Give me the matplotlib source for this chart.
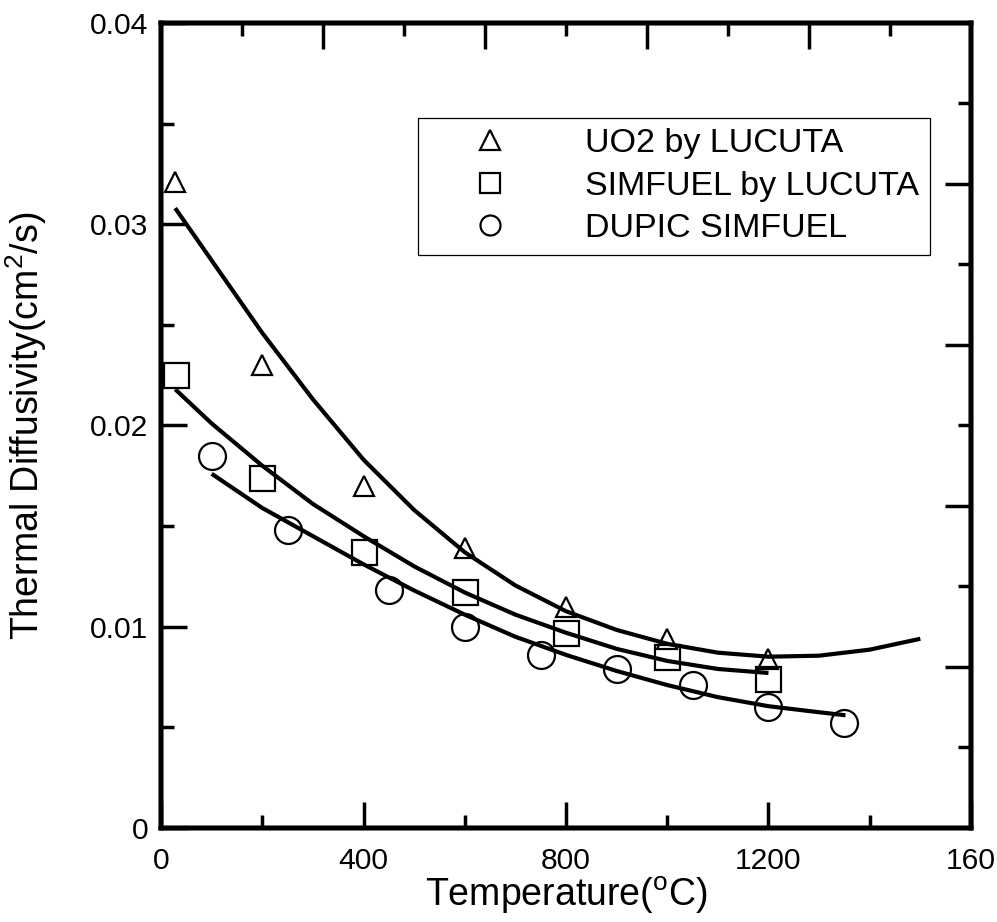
import matplotlib
matplotlib.use("Agg")
import matplotlib.pyplot as plt
from matplotlib.lines import Line2D

plt.rcParams["font.family"] = ["Liberation Sans", "DejaVu Sans"]
plt.rcParams["mathtext.fontset"] = "custom"
plt.rcParams["mathtext.rm"] = "Liberation Sans"
plt.rcParams["mathtext.it"] = "Liberation Sans:italic"

# measured points
uo2_t = [28, 200, 400, 600, 800, 1000, 1200]
uo2_d = [0.0321, 0.0230, 0.0170, 0.0139, 0.0110, 0.0094, 0.0084]
sim_t = [30, 200, 400, 600, 800, 1000, 1200]
sim_d = [0.0225, 0.0174, 0.0137, 0.0117, 0.0097, 0.0085, 0.0074]
dupic_t = [100, 250, 450, 600, 750, 900, 1050, 1200, 1350]
dupic_d = [0.0185, 0.0148, 0.0118, 0.0100, 0.0086, 0.0079, 0.0071, 0.0060, 0.0052]

# fitted curves
uo2_fit_t = [28, 100, 200, 300, 400, 500, 600, 700, 800, 900, 1000, 1100, 1200, 1300, 1400, 1500]
uo2_fit_d = [0.0308, 0.0282, 0.0246, 0.0213, 0.0183, 0.0158, 0.0137, 0.01205, 0.01077,
             0.00984, 0.00915, 0.00871, 0.00851, 0.00856, 0.00886, 0.00940]
sim_fit_t = [28, 100, 200, 300, 400, 500, 600, 700, 800, 900, 1000, 1100, 1200]
sim_fit_d = [0.0218, 0.0201, 0.0180, 0.0161, 0.0145, 0.0130, 0.0117, 0.0106, 0.0097,
             0.0089, 0.0083, 0.0079, 0.0077]
dupic_fit_t = [100, 200, 300, 400, 500, 600, 700, 800, 900, 1000, 1100, 1200, 1300, 1352]
dupic_fit_d = [0.0176, 0.0159, 0.0145, 0.0131, 0.0118, 0.0106, 0.0095, 0.0086, 0.0078,
               0.0071, 0.0065, 0.00605, 0.00575, 0.0056]

labels = ["UO2 by LUCUTA", "SIMFUEL by LUCUTA", "DUPIC SIMFUEL"]
xticks = [0, 400, 800, 1200, 1600]
xtick_labels = ["0", "400", "800", "1200", "160"]
yticks = [0, 0.01, 0.02, 0.03, 0.04]
ytick_labels = ["0", "0.01", "0.02", "0.03", "0.04"]

fig = plt.figure(figsize=(9.97, 9.22), dpi=100)
ax = fig.add_axes([0.1615, 0.102, 0.8124, 0.8731])

for t, d in [(uo2_fit_t, uo2_fit_d), (sim_fit_t, sim_fit_d), (dupic_fit_t, dupic_fit_d)]:
    ax.plot(t, d, color="k", lw=3.0, solid_capstyle="butt", solid_joinstyle="round")

mk = dict(ls="none", mfc="none", mec="k", mew=1.6)
ax.plot(uo2_t, uo2_d, marker="^", ms=15, **mk)
ax.plot(sim_t, sim_d, marker="s", ms=18, **mk)
ax.plot(dupic_t, dupic_d, marker="o", ms=19.4, **mk)

ax.set_xlim(0, 1600)
ax.set_ylim(0, 0.04)
ax.set_xticks(xticks)
ax.set_xticklabels(xtick_labels)
ax.set_xticks([200, 600, 1000, 1400], minor=True)
ax.set_yticks(yticks)
ax.set_yticklabels(ytick_labels)
ax.set_yticks([0.005, 0.015, 0.025, 0.035], minor=True)
ax.tick_params(which="both", direction="in", width=2.5, labelsize=21.6)
ax.tick_params(which="major", length=19)
ax.tick_params(which="minor", length=9.5)
ax.tick_params(axis="y", pad=9)
ax.tick_params(axis="x", pad=13.5)

# right and top frames carry their own tick spacing
axr = ax.twinx()
axr.set_ylim(0, 0.04)
axr.set_yticks([0.008, 0.016, 0.024, 0.032])
axr.set_yticks([0.004, 0.012, 0.020, 0.028, 0.036], minor=True)
axr.tick_params(which="both", direction="in", width=2.5, labelright=False)
axr.tick_params(which="major", length=19)
axr.tick_params(which="minor", length=9.5)

axt = ax.twiny()
axt.set_xlim(0, 1600)
axt.set_xticks([320, 640, 960, 1280])
axt.set_xticks([160, 480, 800, 1120, 1440], minor=True)
axt.tick_params(which="both", direction="in", width=2.5, labeltop=False)
axt.tick_params(which="major", length=19)
axt.tick_params(which="minor", length=9.5)

for a in (ax, axr, axt):
    for s in a.spines.values():
        s.set_linewidth(3.2)

handles = [Line2D([], [], marker=m, ms=14.4, **mk) for m in ["^", "s", "o"]]
leg = ax.legend(handles, labels, loc="upper left", bbox_to_anchor=(0.3173, 0.882),
                borderaxespad=0, fontsize=24.5, frameon=True, fancybox=False,
                edgecolor="k", framealpha=1, borderpad=0.3, labelspacing=0.34,
                handlelength=3.65, handletextpad=0.97)
leg.get_frame().set_linewidth(0.9)

ax.set_xlabel("Temperature($\\mathrm{^o}$C)", fontsize=27)
ax.xaxis.set_label_coords(0.5, -0.0575)
ax.set_ylabel("Thermal Diffusivity(cm$\\mathrm{^2}$/s)", fontsize=27)
ax.yaxis.set_label_coords(-0.138, 0.5)

fig.savefig("out.png", dpi=100)
